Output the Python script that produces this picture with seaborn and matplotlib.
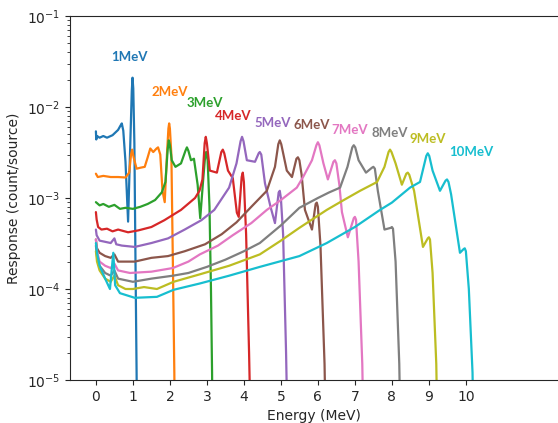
import numpy as np
import pandas as pd
import seaborn as sns
import matplotlib
matplotlib.use("Agg")
import matplotlib.pyplot as plt

# Spectra (energy in MeV, response in count/source)
e1 = [0.0, 0.01, 0.03, 0.1, 0.2, 0.3, 0.45, 0.6, 0.66, 0.7, 0.74, 0.8, 0.87, 0.93, 0.97, 0.99, 1.01, 1.04, 1.07, 1.1, 1.12]
r1 = [5.4e-3, 4.4e-3, 4.8e-3, 4.6e-3, 4.8e-3, 4.6e-3, 4.9e-3, 5.6e-3, 6.2e-3, 6.6e-3, 5.5e-3, 2.5e-3, 5.5e-4, 4e-3, 1.5e-2, 2.1e-2, 1.6e-2, 4e-3, 2e-4, 1.2e-5, 1e-6]

e2 = [0.0, 0.05, 0.2, 0.4, 0.6, 0.8, 0.9, 0.95, 0.98, 1.02, 1.1, 1.2, 1.32, 1.4, 1.47, 1.55, 1.64, 1.68, 1.74, 1.8, 1.86, 1.92, 1.96, 1.98, 2.0, 2.04, 2.08, 2.12, 2.14]
r2 = [1.85e-3, 1.7e-3, 1.75e-3, 1.7e-3, 1.7e-3, 1.68e-3, 1.9e-3, 3.0e-3, 3.4e-3, 2.8e-3, 2.1e-3, 2.15e-3, 2.2e-3, 2.8e-3, 3.5e-3, 3.2e-3, 3.5e-3, 3.6e-3, 3.0e-3, 1.2e-3, 9e-4, 3.0e-3, 5.8e-3, 6.6e-3, 5.8e-3, 3.0e-3, 2e-4, 1.2e-5, 1e-6]

e3 = [0.0, 0.1, 0.2, 0.35, 0.5, 0.65, 0.8, 1.0, 1.2, 1.4, 1.6, 1.78, 1.88, 1.94, 1.97, 2.0, 2.05, 2.15, 2.3, 2.42, 2.46, 2.5, 2.57, 2.65, 2.75, 2.82, 2.9, 2.95, 2.98, 3.02, 3.07, 3.11, 3.14, 3.16]
r3 = [9e-4, 8.3e-4, 8.6e-4, 8.0e-4, 8.4e-4, 7.6e-4, 7.8e-4, 7.6e-4, 8.0e-4, 8.6e-4, 9.5e-4, 1.15e-3, 1.5e-3, 3.4e-3, 4.3e-3, 3.8e-3, 2.6e-3, 2.2e-3, 2.4e-3, 3.3e-3, 3.6e-3, 3.3e-3, 2.6e-3, 2.7e-3, 1.4e-3, 6.0e-4, 1.6e-3, 2.8e-3, 3.2e-3, 2.6e-3, 8e-4, 1e-4, 1.2e-5, 1e-6]

e4 = [0.0, 0.02, 0.06, 0.15, 0.3, 0.45, 0.6, 0.87, 1.14, 1.5, 1.85, 2.3, 2.68, 2.8, 2.88, 2.94, 2.97, 3.0, 3.08, 3.27, 3.39, 3.43, 3.47, 3.57, 3.7, 3.81, 3.86, 3.94, 3.97, 4.0, 4.06, 4.14, 4.19, 4.21]
r4 = [7e-4, 5.8e-4, 4.8e-4, 4.5e-4, 4.6e-4, 4.3e-4, 4.5e-4, 4.2e-4, 4.4e-4, 4.8e-4, 5.7e-4, 7.4e-4, 1.0e-3, 1.2e-3, 1.6e-3, 4.0e-3, 4.7e-3, 4.0e-3, 2.0e-3, 1.9e-3, 3.2e-3, 3.4e-3, 3.1e-3, 2.0e-3, 1.65e-3, 6.9e-4, 6.2e-4, 1.7e-3, 1.9e-3, 1.5e-3, 4e-4, 2e-5, 2e-6, 1e-6]

e5 = [0.0, 0.02, 0.1, 0.25, 0.4, 0.5, 0.55, 0.7, 1.05, 1.5, 1.95, 2.4, 2.85, 3.2, 3.6, 3.8, 3.91, 3.95, 3.99, 4.08, 4.3, 4.4, 4.43, 4.47, 4.57, 4.72, 4.84, 4.94, 4.97, 5.0, 5.06, 5.14, 5.2]
r5 = [4.5e-4, 3.9e-4, 3.4e-4, 3.3e-4, 3.2e-4, 3.6e-4, 3.1e-4, 3.0e-4, 2.9e-4, 3.2e-4, 3.6e-4, 4.5e-4, 5.7e-4, 7.4e-4, 1.3e-3, 2.4e-3, 4.2e-3, 4.7e-3, 4.2e-3, 2.6e-3, 2.5e-3, 3.1e-3, 3.2e-3, 3.0e-3, 1.45e-3, 8e-4, 5.3e-4, 1.15e-3, 1.2e-3, 1.0e-3, 4e-4, 2e-5, 1e-6]

e6 = [0.0, 0.03, 0.1, 0.25, 0.4, 0.5, 0.6, 0.8, 1.05, 1.5, 1.95, 2.4, 2.95, 3.4, 3.8, 4.2, 4.62, 4.84, 4.93, 4.97, 5.01, 5.16, 5.3, 5.42, 5.46, 5.5, 5.56, 5.65, 5.84, 5.94, 5.97, 6.0, 6.07, 6.18, 6.23]
r6 = [3.5e-4, 2.8e-4, 2.5e-4, 2.3e-4, 2.2e-4, 2.4e-4, 2.0e-4, 2.0e-4, 2.0e-4, 2.2e-4, 2.3e-4, 2.6e-4, 3.1e-4, 4.0e-4, 5.4e-4, 8e-4, 1.2e-3, 2.2e-3, 3.9e-3, 4.3e-3, 3.9e-3, 2.0e-3, 1.7e-3, 2.7e-3, 2.8e-3, 2.6e-3, 1.8e-3, 7.4e-4, 4.5e-4, 8.6e-4, 8.9e-4, 8e-4, 3e-4, 1.5e-5, 1e-6]

e7 = [0.0, 0.03, 0.1, 0.25, 0.4, 0.5, 0.6, 0.92, 1.5, 2.08, 2.5, 2.81, 3.3, 3.7, 4.2, 4.62, 5.0, 5.43, 5.6, 5.84, 5.96, 6.0, 6.04, 6.15, 6.27, 6.42, 6.46, 6.5, 6.58, 6.65, 6.81, 6.97, 7.0, 7.03, 7.1, 7.2, 7.25]
r7 = [3.5e-4, 2.6e-4, 2.0e-4, 1.8e-4, 1.7e-4, 1.9e-4, 1.6e-4, 1.5e-4, 1.55e-4, 1.7e-4, 2.0e-4, 2.4e-4, 3.0e-4, 3.9e-4, 5.3e-4, 7.4e-4, 9.5e-4, 1.3e-3, 1.7e-3, 2.6e-3, 3.8e-3, 4.1e-3, 3.8e-3, 2.4e-3, 1.6e-3, 2.5e-3, 2.6e-3, 2.4e-3, 1.4e-3, 7e-4, 3.7e-4, 6.0e-4, 6.2e-4, 5.8e-4, 2e-4, 1.5e-5, 1e-6]

e8 = [0.0, 0.03, 0.1, 0.25, 0.4, 0.5, 0.6, 1.0, 1.5, 2.08, 2.5, 3.0, 3.5, 4.0, 4.43, 5.0, 5.5, 6.0, 6.3, 6.6, 6.8, 6.93, 6.97, 7.01, 7.1, 7.3, 7.46, 7.5, 7.54, 7.62, 7.8, 7.97, 8.0, 8.03, 8.1, 8.2, 8.25]
r8 = [3e-4, 2.3e-4, 1.8e-4, 1.5e-4, 1.4e-4, 1.6e-4, 1.3e-4, 1.2e-4, 1.3e-4, 1.4e-4, 1.5e-4, 1.75e-4, 2.1e-4, 2.6e-4, 3.2e-4, 5e-4, 7.8e-4, 1.0e-3, 1.15e-3, 1.3e-3, 2.2e-3, 3.6e-3, 3.8e-3, 3.6e-3, 2.6e-3, 1.9e-3, 2.15e-3, 2.2e-3, 2.1e-3, 1.2e-3, 4.5e-4, 4.7e-4, 4.8e-4, 4.6e-4, 2e-4, 1.5e-5, 1e-6]

e9 = [0.0, 0.03, 0.1, 0.25, 0.4, 0.5, 0.6, 0.8, 1.0, 1.3, 1.65, 2.1, 2.81, 3.6, 4.43, 5.0, 5.5, 6.24, 6.7, 7.14, 7.6, 7.8, 7.91, 7.95, 7.99, 8.1, 8.27, 8.39, 8.43, 8.47, 8.6, 8.84, 8.97, 9.0, 9.03, 9.1, 9.2, 9.25]
r9 = [2.6e-4, 2.0e-4, 1.6e-4, 1.3e-4, 1.2e-4, 1.4e-4, 1.1e-4, 1.0e-4, 1.0e-4, 1.05e-4, 1.0e-4, 1.2e-4, 1.45e-4, 1.8e-4, 2.4e-4, 3.4e-4, 4.7e-4, 7.4e-4, 9.5e-4, 1.2e-3, 1.5e-3, 2.2e-3, 3.2e-3, 3.4e-3, 3.2e-3, 2.4e-3, 1.4e-3, 1.85e-3, 1.9e-3, 1.8e-3, 1.2e-3, 2.9e-4, 3.6e-4, 3.7e-4, 3.5e-4, 1.5e-4, 1.5e-5, 1e-6]

e10 = [0.0, 0.03, 0.1, 0.25, 0.38, 0.47, 0.52, 0.65, 1.05, 1.65, 2.1, 2.81, 3.6, 4.43, 5.5, 6.24, 7.0, 7.68, 8.0, 8.49, 8.76, 8.93, 8.97, 9.01, 9.1, 9.3, 9.45, 9.49, 9.53, 9.6, 9.84, 9.94, 9.97, 10.0, 10.08, 10.18, 10.22]
r10 = [3.2e-4, 2.5e-4, 1.8e-4, 1.3e-4, 1.0e-4, 2.5e-4, 1.1e-4, 9e-5, 8e-5, 8.2e-5, 9.8e-5, 1.15e-4, 1.4e-4, 1.75e-4, 2.3e-4, 3.2e-4, 4.8e-4, 7.4e-4, 8.9e-4, 1.3e-3, 1.5e-3, 2.9e-3, 3.1e-3, 2.9e-3, 2.0e-3, 1.2e-3, 1.55e-3, 1.6e-3, 1.5e-3, 1.1e-3, 2.5e-4, 2.75e-4, 2.8e-4, 2.6e-4, 1e-4, 1.2e-5, 1e-6]

sources = ['1MeV', '2MeV', '3MeV', '4MeV', '5MeV', '6MeV', '7MeV', '8MeV', '9MeV', '10MeV']
energies = [e1, e2, e3, e4, e5, e6, e7, e8, e9, e10]
responses = [r1, r2, r3, r4, r5, r6, r7, r8, r9, r10]

# label positions
label_x = [0.92, 2.0, 2.95, 3.7, 4.78, 5.84, 6.86, 7.95, 8.97, 10.16]
label_y = [3.5e-2, 1.46e-2, 1.1e-2, 7.9e-3, 6.6e-3, 6.3e-3, 5.6e-3, 5.2e-3, 4.5e-3, 3.2e-3]

rows = []
for name, xs, ys in zip(sources, energies, responses):
    for x, y in zip(xs, ys):
        rows.append((name, x, y))
df = pd.DataFrame(rows, columns=['source', 'energy', 'response'])

sns.set_style('ticks')
plt.rcParams['font.family'] = ['DejaVu Sans']
colors = sns.color_palette('tab10', 10)

fig = plt.figure(figsize=(5.58, 4.23), dpi=100)
ax = fig.add_axes([70 / 558, 1 - 380 / 423, 488 / 558, 364 / 423])

sns.lineplot(data=df, x='energy', y='response', hue='source', hue_order=sources,
             palette=colors, sort=False, estimator=None, legend=False, lw=1.6, ax=ax)

ax.set_yscale('log')
ax.set_ylim(1e-5, 1e-1)
ax.set_xlim(-0.7, 12.49)
ax.set_xticks(range(0, 11))
ax.spines['right'].set_visible(False)
ax.tick_params(labelsize=10)
ax.set_xlabel('Energy (MeV)', fontsize=10)
ax.set_ylabel('Response (count/source)', fontsize=10)

for i, name in enumerate(sources):
    ax.text(label_x[i], label_y[i], name, color=colors[i], fontsize=9.5, fontweight='bold',
            family=['Lato', 'DejaVu Sans'], ha='center', va='center')

fig.savefig('out.png', dpi=100)
